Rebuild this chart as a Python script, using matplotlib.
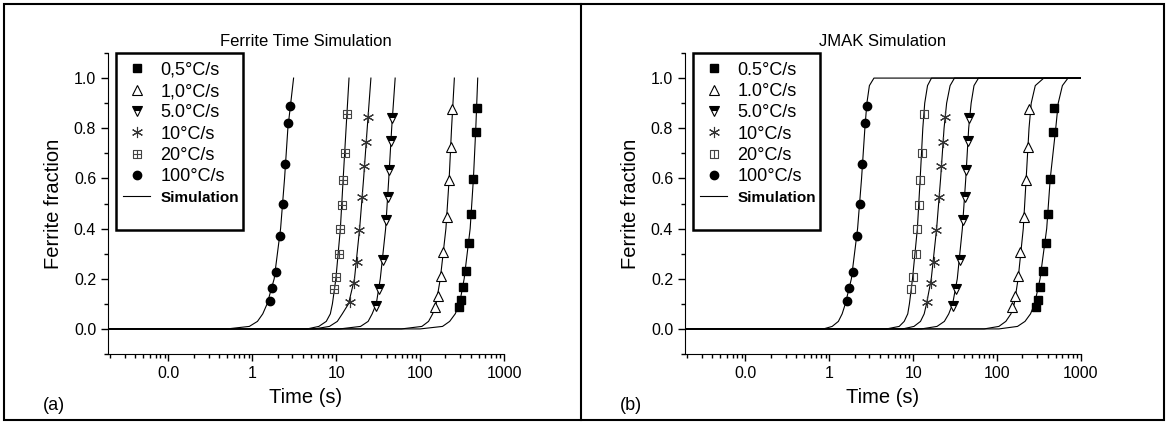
import matplotlib
matplotlib.use('Agg')
import matplotlib.pyplot as plt
from matplotlib.path import Path
from matplotlib.patches import Rectangle
from matplotlib.lines import Line2D
from matplotlib.ticker import LogLocator, NullFormatter, MultipleLocator

plt.rcParams['font.family'] = ['Liberation Sans', 'DejaVu Sans']

# measured points (same in both panels)
t_05 = [289, 305, 322, 350, 383, 405, 431, 460, 473]
f_05 = [0.086, 0.115, 0.169, 0.230, 0.343, 0.458, 0.597, 0.786, 0.882]
t_1 = [151, 162, 176, 189, 208, 223, 232, 242.5]
f_1 = [0.086, 0.133, 0.209, 0.306, 0.447, 0.594, 0.724, 0.875]
t_5 = [29.9, 32.2, 36.0, 39.4, 41.2, 42.7, 45.2, 46.0]
f_5 = [0.092, 0.159, 0.276, 0.434, 0.527, 0.635, 0.748, 0.842]
t_10 = [14.7, 16.1, 17.6, 18.9, 20.2, 21.7, 22.8, 23.8]
f_10 = [0.108, 0.182, 0.266, 0.396, 0.527, 0.648, 0.744, 0.846]
t_20 = [9.3, 9.9, 10.7, 11.2, 11.7, 12.0, 12.6, 13.4]
f_20 = [0.159, 0.206, 0.300, 0.400, 0.494, 0.594, 0.702, 0.855]
t_100 = [1.61, 1.72, 1.89, 2.11, 2.30, 2.47, 2.68, 2.78]
f_100 = [0.112, 0.164, 0.228, 0.369, 0.500, 0.657, 0.822, 0.889]

# simulation curves (a) - ferrite time model
sim_f_a = [0, 0, 0.01, 0.03, 0.06, 0.1, 0.2, 0.4, 0.6, 0.8, 1.0]
sim_a_100 = [0.019, 0.5, 0.92, 1.15, 1.33, 1.5, 1.82, 2.17, 2.42, 2.65, 3.1]
sim_a_20 = [0.019, 4.5, 6.2, 7.6, 8.5, 9.0, 9.9, 11.2, 12.1, 13.1, 14.2]
sim_a_10 = [0.019, 5.5, 8.3, 10.3, 11.8, 14.0, 16.5, 19.0, 21.2, 23.4, 25.9]
sim_a_5 = [0.019, 11, 19.5, 24, 26.8, 30.0, 33.5, 38.8, 42.3, 45.8, 50.4]
sim_a_1 = [0.019, 60, 105, 126, 141, 155, 174, 203, 222, 237, 256]
sim_a_05 = [0.019, 100, 185, 225, 262, 295, 335, 395, 432, 461, 486]

# simulation curves (b) - JMAK
sim_f_b = [0, 0, 0.01, 0.03, 0.06, 0.1, 0.2, 0.4, 0.6, 0.8, 0.9, 0.97, 1.0, 1.0]
sim_b_100 = [0.019, 0.85, 1.08, 1.28, 1.42, 1.55, 1.83, 2.17, 2.42, 2.65, 2.80, 3.0, 3.4, 1000]
sim_b_20 = [0.019, 4.8, 6.8, 7.8, 8.6, 9.0, 9.8, 11.2, 12.1, 13.0, 13.7, 14.8, 16.5, 1000]
sim_b_10 = [0.019, 7.5, 10.2, 12.2, 13.5, 14.4, 16.4, 19.0, 21.2, 23.3, 25.0, 27.5, 31, 1000]
sim_b_5 = [0.019, 12.5, 19.2, 23.5, 26.5, 29.5, 33.5, 38.5, 42.3, 45.8, 49, 53, 60, 1000]
sim_b_1 = [0.019, 70, 105, 127, 146, 160, 178, 205, 222, 240, 255, 285, 360, 1000]
sim_b_05 = [0.019, 105, 175, 215, 250, 280, 325, 390, 430, 500, 535, 600, 700, 1000]

labels_a = ['0,5°C/s', '1,0°C/s', '5.0°C/s', '10°C/s', '20°C/s', '100°C/s', 'Simulation']
labels_b = ['0.5°C/s', '1.0°C/s', '5.0°C/s', '10°C/s', '20°C/s', '100°C/s', 'Simulation']
xtick_vals = [0.1, 1, 10, 100, 1000]
xtick_labels = ['0.0', '1', '10', '100', '1000']

# square with cross / square with bar markers for 20 C/s
box_plus = Path([(-1, -1), (1, -1), (1, 1), (-1, 1), (-1, -1), (0, -1), (0, 1), (-1, 0), (1, 0)],
                [1, 2, 2, 2, 2, 1, 2, 1, 2])
box_bar = Path([(-1, -1), (1, -1), (1, 1), (-1, 1), (-1, -1), (0, -1), (0, 1)],
               [1, 2, 2, 2, 2, 1, 2])

W, H = 1170, 424
fig = plt.figure(figsize=(11.7, 4.24), dpi=100)
ax_a = fig.add_axes([108 / W, 70 / H, 396 / W, 301 / H])
ax_b = fig.add_axes([685 / W, 70 / H, 396 / W, 301 / H])


def draw_panel(ax, sims, sim_f, m20, labels, title, tag):
    for t in sims:
        ax.plot(t, sim_f, color='black', lw=0.8, zorder=2)
    h = []
    h += ax.plot(t_05, f_05, ls='none', marker='s', ms=5.5, color='black')
    h += ax.plot(t_1, f_1, ls='none', marker='^', ms=6.5, mfc='white', mec='black', mew=0.8)
    h += ax.plot(t_5, f_5, ls='none', marker='v', ms=6.5, mfc='black', mec='black',
                 fillstyle='top', markerfacecoloralt='white', mew=0.8)
    h += ax.plot(t_10, f_10, ls='none', marker=(6, 2, 0), ms=8, color='#333333', mew=0.8)
    h += ax.plot(t_20, f_20, ls='none', marker=m20, ms=6, mfc='none', mec='#444444', mew=0.8)
    h += ax.plot(t_100, f_100, ls='none', marker='o', ms=6, color='black')
    h.append(Line2D([], [], color='black', lw=0.8))

    ax.set_xscale('log')
    ax.set_xlim(0.019, 1000)
    ax.set_ylim(-0.1, 1.1)
    ax.spines['top'].set_visible(False)
    ax.spines['right'].set_visible(False)
    ax.set_xticks(xtick_vals, xtick_labels)
    ax.xaxis.set_minor_locator(LogLocator(base=10, subs=range(2, 10)))
    ax.xaxis.set_minor_formatter(NullFormatter())
    ax.set_yticks([0, 0.2, 0.4, 0.6, 0.8, 1.0], ['0.0', '0.2', '0.4', '0.6', '0.8', '1.0'])
    ax.yaxis.set_minor_locator(MultipleLocator(0.1))
    ax.tick_params(which='major', direction='out', length=5, width=1, labelsize=11.5)
    ax.tick_params(which='minor', direction='out', length=3, width=1)
    ax.set_xlabel('Time (s)', fontsize=14.5, labelpad=5)
    ax.set_ylabel('Ferrite fraction', fontsize=14.5, labelpad=8)
    ax.set_title(title, fontsize=12, pad=5)
    ax.text(-0.165, -0.17, tag, transform=ax.transAxes, fontsize=13, va='center')

    ax.add_patch(Rectangle((0.02, 0.412), 0.321, 0.588, transform=ax.transAxes,
                           fill=False, lw=1.8, color='black', clip_on=False, zorder=5))
    leg = ax.legend(h, labels, loc='upper left', bbox_to_anchor=(0.02, 0.995),
                    frameon=False, fontsize=13, handlelength=1.5, handletextpad=0.55,
                    borderpad=0.4, labelspacing=0.24, borderaxespad=0, numpoints=1)
    leg.get_texts()[-1].set_fontweight('bold')
    leg.get_texts()[-1].set_fontsize(11)


draw_panel(ax_a, [sim_a_05, sim_a_1, sim_a_5, sim_a_10, sim_a_20, sim_a_100], sim_f_a,
           box_plus, labels_a, 'Ferrite Time Simulation', '(a)')
draw_panel(ax_b, [sim_b_05, sim_b_1, sim_b_5, sim_b_10, sim_b_20, sim_b_100], sim_f_b,
           box_bar, labels_b, 'JMAK Simulation', '(b)')

# outer frame and divider
fig.add_artist(Rectangle((4 / W, 4 / H), 1160 / W, 416 / H, transform=fig.transFigure,
                         fill=False, lw=1.5, color='black'))
fig.add_artist(Line2D([581 / W, 581 / W], [4 / H, 420 / H], transform=fig.transFigure,
                      lw=1.5, color='black'))

fig.savefig('out.png', dpi=100)
